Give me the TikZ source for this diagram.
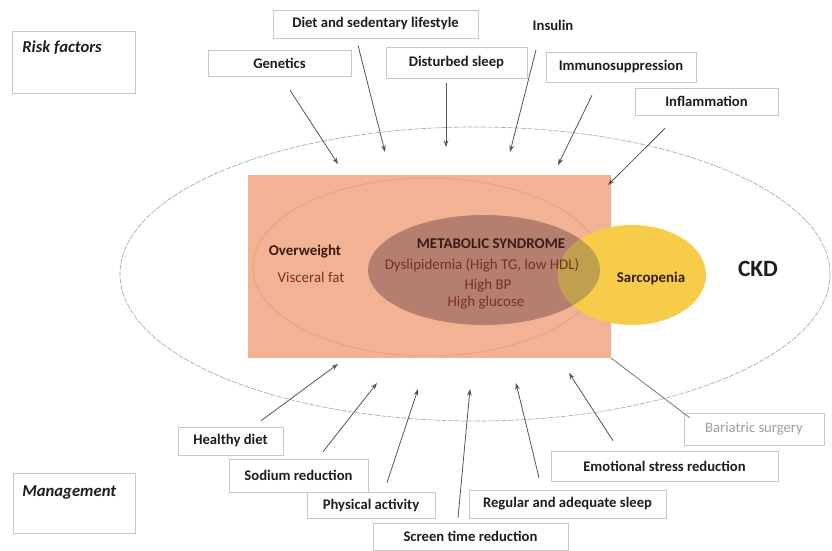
\documentclass[tikz,border=0pt]{standalone}
\usepackage{fontspec}
\setmainfont{Carlito}
\usetikzlibrary{arrows.meta,calc}
\definecolor{salmon}{RGB}{244,178,148}
\definecolor{salmonline}{RGB}{232,156,124}
\definecolor{metab}{RGB}{180,127,110}
\definecolor{sarco}{RGB}{247,204,72}
\definecolor{overlap}{RGB}{190,160,78}
\definecolor{boxgray}{RGB}{200,200,200}
\definecolor{arrgray}{RGB}{85,85,85}
\definecolor{txtdark}{RGB}{30,30,30}
\definecolor{brownt}{RGB}{120,50,35}
\definecolor{darkbrown}{RGB}{55,30,20}
\begin{document}
\begin{tikzpicture}[x=0.75pt,y=-0.75pt]
\tikzset{
 lbl/.style={draw=boxgray, line width=0.4pt, fill=white, inner sep=0pt, text=txtdark, font=\fontsize{11}{13}\selectfont\bfseries},
 sz/.style 2 args={minimum width=#1*0.75pt, minimum height=#2*0.75pt},
 arr/.style={draw=arrgray, line width=0.6pt, -{Stealth[length=5pt,width=3.5pt]}},
 plainln/.style={draw=arrgray!80, line width=0.6pt},
 corner/.style={anchor=west, inner sep=0pt, text=txtdark, font=\fontsize{12.5}{14}\selectfont\bfseries\itshape},
 inner/.style={inner sep=0pt, font=\fontsize{11.2}{13}\selectfont},
 innerb/.style={inner sep=0pt, font=\fontsize{11.2}{13}\selectfont\bfseries, text=darkbrown},
}
\useasboundingbox (0,0) rectangle (832,550);
\fill[white] (0,0) rectangle (832,550);

% CKD ellipse
\draw[gray!65, line width=0.5pt, dash pattern=on 4pt off 1pt] (475,274) ellipse [x radius=355, y radius=147];

% overweight rectangle
\fill[salmon] (248,175) rectangle (611,358);
\coordinate (rectSE) at (611,358);
\draw[salmonline, line width=0.5pt] (428,267) ellipse [x radius=175, y radius=89];
% metabolic syndrome
\fill[metab] (484,270) ellipse [x radius=116, y radius=55];
% sarcopenia
\fill[sarco] (632,275) ellipse [x radius=74, y radius=50];
\begin{scope}
 \clip (632,275) ellipse [x radius=74, y radius=50];
 \fill[overlap] (484,270) ellipse [x radius=116, y radius=55];
\end{scope}

% inner texts
\node[innerb] (ow) at (305,252) {Overweight};
\node[inner, text=brownt] (vf) at (311,277) {Visceral fat};
\node[innerb] (ms) at (491,244) {METABOLIC SYNDROME};
\node[inner, text=brownt] (dys) at (482,265) {Dyslipidemia (High TG, low HDL)};
\node[inner, text=brownt] (hbp) at (488,286) {High BP};
\node[inner, text=brownt] (hg) at (486,303) {High glucose};
\node[innerb] (sar) at (651,278) {Sarcopenia};
\node[inner, font=\fontsize{17.5}{20}\selectfont\bfseries, text=txtdark] (ckd) at (758,269) {CKD};

% corner boxes
\node[lbl, sz={123}{62}] (riskbox) at (73.5,62) {};
\node[corner] (risk) at (22,48) {Risk factors};
\node[lbl, sz={122}{60}] (mgmtbox) at (74,503) {};
\node[corner] (mgmt) at (22,492) {Management};

% risk factor boxes
\node[lbl, sz={205}{28}] (diet) at (375.5,24) {Diet and sedentary lifestyle};
\node[lbl, sz={143}{26}] (gen) at (279.5,63) {Genetics};
\node[lbl, sz={141}{31}] (dsleep) at (456.5,62.5) {Disturbed sleep};
\node[lbl, draw=none, fill=none] (ins) at (553,25) {Insulin};
\node[lbl, sz={150}{30}] (imm) at (621,67) {Immunosuppression};
\node[lbl, sz={143}{27}] (infl) at (706.5,101.5) {Inflammation};

% management boxes
\node[lbl, sz={105}{28}] (hd) at (230.5,441) {Healthy diet};
\node[lbl, sz={139}{33}] (sod) at (298.5,475.5) {Sodium reduction};
\node[lbl, sz={128}{26}] (phys) at (371,505) {Physical activity};
\node[lbl, sz={195}{27}] (scr) at (470.5,536.5) {Screen time reduction};
\node[lbl, sz={197}{28}] (reg) at (567.5,504) {Regular and adequate sleep};
\node[lbl, sz={227}{30}] (emo) at (664.5,466) {Emotional stress reduction};
\node[lbl, sz={140}{32}, text=gray!75, font=\fontsize{11}{13}\selectfont] (bar) at (754,429) {Bariatric surgery};

% arrow end points
\coordinate (gE) at (338,164);
\coordinate (dE) at (385,152);
\coordinate (sE) at (446,147);
\coordinate (iE) at (510,152);
\coordinate (mE) at (558,165);
\coordinate (fE) at (608,185);
\coordinate (hE) at (338,364);
\coordinate (soE) at (377,383);
\coordinate (pE) at (418,389);
\coordinate (scE) at (470,389);
\coordinate (rE) at (516,383);
\coordinate (eE) at (569,373);

% risk factor arrows
\draw[arr] ($(gen.south)+(10.5,14)$) -- (gE);
\draw[arr] ($(diet.south)+(-17.5,7)$) -- (dE);
\draw[arr] ($(dsleep.south)+(-10.5,5)$) -- (sE);
\draw[arr] ($(ins.center)+(-17,25)$) -- (iE);
\draw[arr] ($(imm.south)+(-29,13)$) -- (mE);
\draw[arr] ($(infl.south)+(-41.5,13)$) -- (fE);

% management arrows
\draw[arr] ($(hd.north)+(30.5,-6)$) -- (hE);
\draw[arr] ($(sod.north)+(24.5,-7)$) -- (soE);
\draw[arr] ($(phys.north)+(16,-9)$) -- (pE);
\draw[arr] ($(scr.north)+(-12.5,-5)$) -- (scE);
\draw[arr] ($(reg.north)+(-28.5,-12)$) -- (rE);
\draw[arr] ($(emo.north)+(-51.5,-10)$) -- (eE);
\draw[plainln] ($(bar.north west)+(6,5)$) -- (rectSE);
\end{tikzpicture}
\end{document}
